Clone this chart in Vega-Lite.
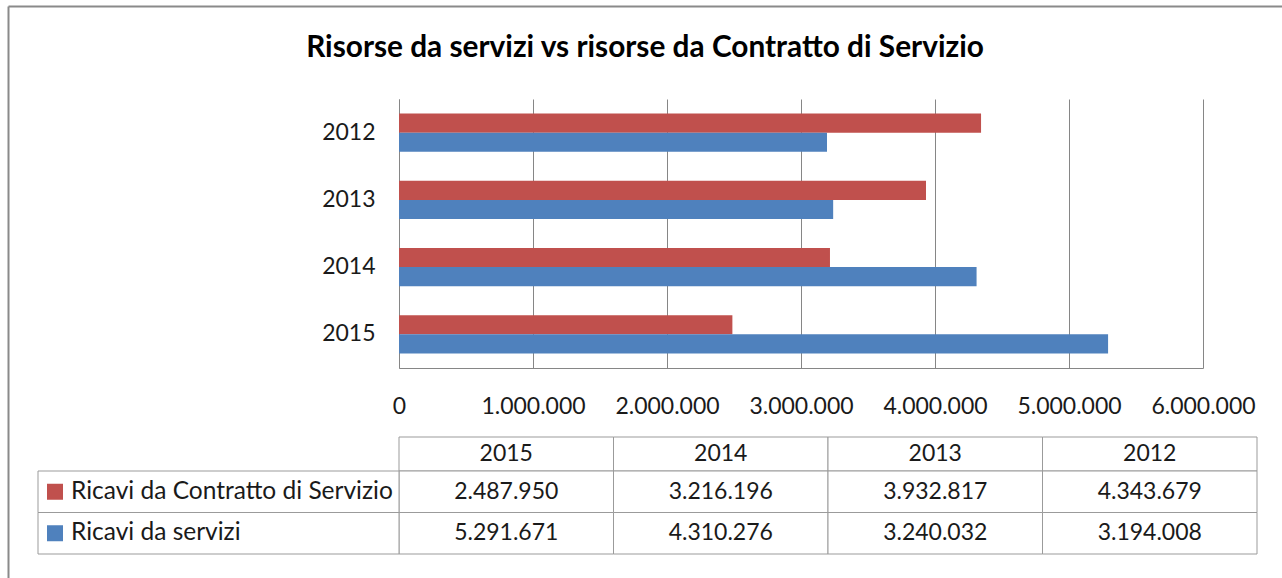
{
  "$schema": "https://vega.github.io/schema/vega-lite/v6.json",
  "width": 1274,
  "height": 572,
  "autosize": {"type": "none"},
  "padding": {"left": 8, "top": 6, "right": 0, "bottom": 0},
  "background": "white",
  "title": {
    "text": "Risorse da servizi vs risorse da Contratto di Servizio",
    "anchor": "middle",
    "frame": "group",
    "font": "Lato",
    "fontSize": 29.8,
    "fontWeight": "bold",
    "color": "#000000",
    "baseline": "alphabetic",
    "offset": -81
  },
  "config": {
    "locale": {"number": {"decimal": ",", "thousands": ".", "grouping": [3], "currency": ["€", ""]}},
    "view": {"stroke": null},
    "font": "Lato",
    "text": {"font": "Lato", "fontSize": 23, "color": "#1a1a1a"}
  },
  "data": {
    "values": [
      {"year": "2015", "series": "Ricavi da Contratto di Servizio", "value": 2487950},
      {"year": "2015", "series": "Ricavi da servizi", "value": 5291671},
      {"year": "2014", "series": "Ricavi da Contratto di Servizio", "value": 3216196},
      {"year": "2014", "series": "Ricavi da servizi", "value": 4310276},
      {"year": "2013", "series": "Ricavi da Contratto di Servizio", "value": 3932817},
      {"year": "2013", "series": "Ricavi da servizi", "value": 3240032},
      {"year": "2012", "series": "Ricavi da Contratto di Servizio", "value": 4343679},
      {"year": "2012", "series": "Ricavi da servizi", "value": 3194008}
    ]
  },
  "resolve": {"scale": {"x": "independent", "y": "independent"}},
  "layer": [
    {
      "mark": {"type": "point", "opacity": 0},
      "encoding": {
        "x": {"field": "value", "type": "quantitative", "scale": {"domain": [0, 6000000], "range": [0, 1274], "nice": false, "zero": false},
          "axis": {"orient": "top", "domain": true, "domainColor": "#8a8a8a", "domainWidth": 2, "labels": false, "ticks": false, "grid": false, "title": null}},
        "y": {"field": "value", "type": "quantitative", "scale": {"domain": [0, 6000000], "range": [0, 572], "nice": false, "zero": false},
          "axis": {"orient": "left", "domain": true, "domainColor": "#8a8a8a", "domainWidth": 2, "labels": false, "ticks": false, "grid": false, "title": null}}
      }
    },
    {
      "mark": {"type": "bar"},
      "encoding": {
        "y": {"field": "year", "type": "nominal", "sort": ["2012", "2013", "2014", "2015"],
          "scale": {"range": [93, 362], "paddingInner": 0.4345, "paddingOuter": 0.2173},
          "axis": {"orient": "left", "offset": -391, "title": null, "domain": true, "domainColor": "#868686", "domainWidth": 1, "ticks": false, "tickSize": 0, "labelPadding": 24, "labelFont": "Lato", "labelFontSize": 23, "labelColor": "#1a1a1a", "grid": false}},
        "yOffset": {"field": "series", "type": "nominal", "sort": ["Ricavi da Contratto di Servizio", "Ricavi da servizi"], "scale": {"paddingInner": 0, "paddingOuter": 0}},
        "x": {"field": "value", "type": "quantitative",
          "scale": {"domain": [0, 6000000], "range": [391, 1195], "nice": false, "zero": true},
          "axis": {"orient": "top", "offset": -362, "values": [0, 1000000, 2000000, 3000000, 4000000, 5000000, 6000000], "format": ",d", "title": null, "grid": true, "gridColor": "#868686", "gridWidth": 1, "domain": true, "domainColor": "#868686", "domainWidth": 1, "ticks": false, "tickSize": 0, "labelPadding": -27, "labelBaseline": "top", "labelFlush": false, "labelOverlap": false, "labelFont": "Lato", "labelFontSize": 23, "labelColor": "#1a1a1a"}},
        "color": {"field": "series", "type": "nominal", "sort": ["Ricavi da Contratto di Servizio", "Ricavi da servizi"], "scale": {"range": ["#C0504D", "#4F81BD"]}, "legend": null}
      }
    },
    {
      "transform": [{"filter": "datum.series === 'Ricavi da servizi'"}],
      "encoding": {
        "x": {"field": "year", "type": "nominal", "sort": ["2015", "2014", "2013", "2012"], "scale": {"range": [391, 1249], "paddingInner": 0, "paddingOuter": 0}, "axis": null},
        "y": {"datum": "Anno", "type": "nominal", "scale": {"domain": ["Anno"], "range": [431, 465], "paddingInner": 0, "paddingOuter": 0}, "axis": null}
      },
      "layer": [
        {"mark": {"type": "rect", "fill": "white", "stroke": "#9b9b9b", "strokeWidth": 1}},
        {"mark": {"type": "text", "align": "center", "baseline": "middle", "font": "Lato", "fontSize": 23, "color": "#1a1a1a"}, "encoding": {"text": {"field": "year", "type": "nominal"}}}
      ]
    },
    {
      "encoding": {
        "x": {"field": "year", "type": "nominal", "sort": ["2015", "2014", "2013", "2012"], "scale": {"range": [391, 1249], "paddingInner": 0, "paddingOuter": 0}, "axis": null},
        "y": {"field": "series", "type": "nominal", "sort": ["Ricavi da Contratto di Servizio", "Ricavi da servizi"], "scale": {"range": [465, 548], "paddingInner": 0, "paddingOuter": 0}, "axis": null}
      },
      "layer": [
        {"mark": {"type": "rect", "fill": "white", "stroke": "#9b9b9b", "strokeWidth": 1}},
        {"mark": {"type": "text", "align": "center", "baseline": "middle", "font": "Lato", "fontSize": 23, "color": "#1a1a1a"}, "encoding": {"text": {"field": "value", "type": "quantitative", "format": ",d"}}}
      ]
    },
    {
      "transform": [{"filter": "datum.year === '2015'"}],
      "layer": [
        {
          "mark": {"type": "rect", "fill": "white", "stroke": "#9b9b9b", "strokeWidth": 1},
          "encoding": {
            "x": {"datum": "label", "type": "nominal", "scale": {"domain": ["label"], "range": [30, 391], "paddingInner": 0, "paddingOuter": 0}, "axis": null},
            "y": {"field": "series", "type": "nominal", "sort": ["Ricavi da Contratto di Servizio", "Ricavi da servizi"], "scale": {"range": [465, 548], "paddingInner": 0, "paddingOuter": 0}, "axis": null}
          }
        },
        {
          "mark": {"type": "text", "align": "left", "baseline": "middle", "dx": 33, "font": "Lato", "fontSize": 24.5, "color": "#1a1a1a"},
          "encoding": {
            "x": {"datum": "label", "type": "nominal", "bandPosition": 0},
            "y": {"field": "series", "type": "nominal", "sort": ["Ricavi da Contratto di Servizio", "Ricavi da servizi"]},
            "text": {"field": "series", "type": "nominal"}
          }
        },
        {
          "mark": {"type": "point", "shape": "square", "size": 256, "filled": true, "opacity": 1},
          "encoding": {
            "x": {"datum": "label", "type": "nominal", "bandPosition": 0.0471},
            "y": {"field": "series", "type": "nominal", "sort": ["Ricavi da Contratto di Servizio", "Ricavi da servizi"]},
            "color": {"field": "series", "type": "nominal", "sort": ["Ricavi da Contratto di Servizio", "Ricavi da servizi"], "scale": {"range": ["#C0504D", "#4F81BD"]}, "legend": null}
          }
        }
      ]
    }
  ]
}
